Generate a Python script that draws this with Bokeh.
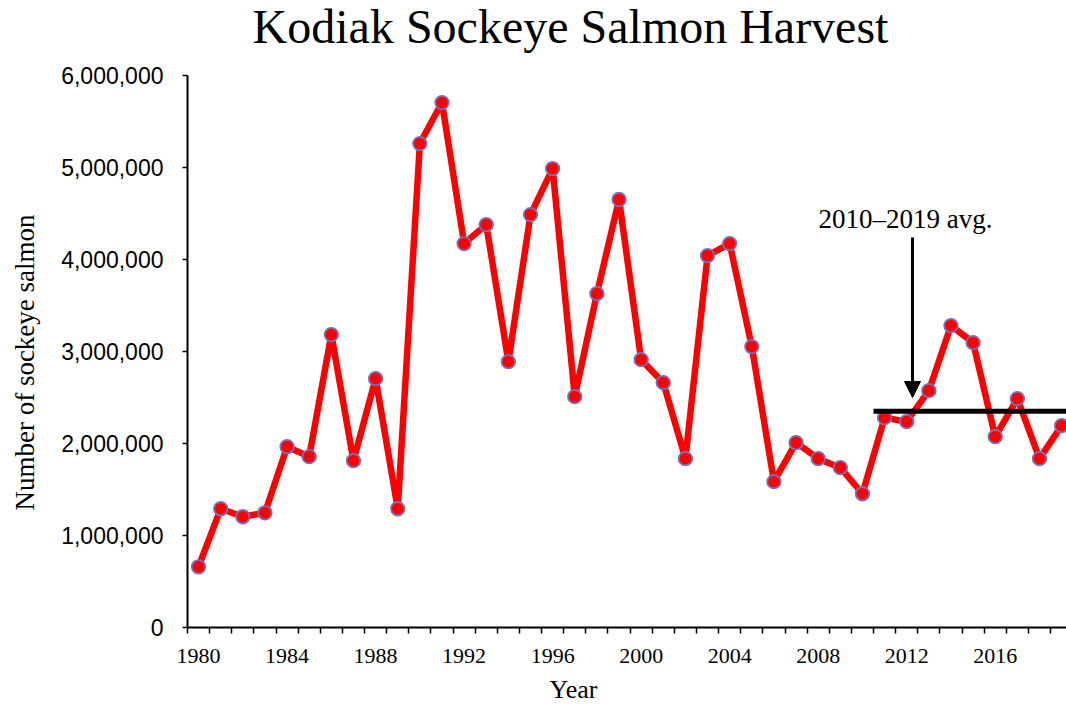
import numpy as np
from bokeh.plotting import figure
from bokeh.models import (Range1d, FixedTicker, NumeralTickFormatter, Label,
                          Arrow, NormalHead, ColumnDataSource)
from bokeh.embed import file_html
from bokeh.resources import INLINE

years = list(range(1980, 2020))
harvest = [660000, 1291000, 1204000, 1247000, 1965000, 1857000, 3184000, 1813000,
           2705000, 1291000, 5260000, 5706000, 4173000, 4379000, 2889000, 4488000,
           4988000, 2509000, 3629000, 4652000, 2911000, 2661000, 1835000, 4042000,
           4173000, 3053000, 1585000, 2009000, 1835000, 1737000, 1454000, 2281000,
           2237000, 2574000, 3281000, 3096000, 2074000, 2487000, 1835000, 2194000]
x_tick_labels = [1980, 1984, 1988, 1992, 1996, 2000, 2004, 2008, 2012, 2016]
y_ticks = [0, 1000000, 2000000, 3000000, 4000000, 5000000, 6000000]
avg_years = [2010, 2019]
avg_value = float(np.mean([v for y, v in zip(years, harvest) if 2010 <= y <= 2019]))

SERIF = "Liberation Serif"
SANS = "Liberation Sans"

# The frame covers the whole canvas; both axes are drawn at fixed locations:
# y axis at the left edge of the first category (x = 187 px), x axis at y = 0 (y = 627 px).
W, H = 1066, 705
Y_MAX = 6000000
Y_PER_PX = Y_MAX / 552.0               # 0 at 627 px, 6,000,000 at 75 px
X_LO, X_HI = 1979.5, 2019.22           # category axis extent (187 px .. 1066 px)
X_PER_PX = (X_HI - X_LO) / 879.0


def x_at(px):
    return X_LO + (px - 187) * X_PER_PX


def y_at(py):
    return (627 - py) * Y_PER_PX


p = figure(width=W, height=H, output_backend="svg", toolbar_location=None,
           title=None,
           x_range=Range1d(x_at(0), x_at(W)), y_range=Range1d(y_at(H), y_at(0)),
           min_border_left=0, min_border_right=0, min_border_top=0,
           min_border_bottom=0)
p.outline_line_color = None
p.grid.visible = False
p.background_fill_color = "white"

src = ColumnDataSource(dict(x=years, y=harvest))
p.line("x", "y", source=src, line_color="#FF0000", line_width=6.5, line_join="round")
p.scatter("x", "y", source=src, size=13.5, fill_color="#FF0000",
          line_color="#7A6FB8", line_width=1.8)

# 2010-2019 average line
p.segment(x0=[avg_years[0] + 0.5], y0=[avg_value], x1=[avg_years[1] + 1], y1=[avg_value],
          line_color="black", line_width=5)

# arrow + annotation text
p.add_layout(Arrow(end=NormalHead(size=16, fill_color="black", line_color="black"),
                   x_start=x_at(912), y_start=y_at(237), x_end=x_at(912), y_end=y_at(397),
                   line_color="black", line_width=3))
p.add_layout(Label(x=x_at(905), y=y_at(218), text="2010\u20132019 avg.", text_font=SERIF,
                   text_font_size="27px", text_align="center", text_baseline="middle",
                   text_color="black"))

# chart title
p.add_layout(Label(x=x_at(570), y=y_at(26), text="Kodiak Sockeye Salmon Harvest",
                   text_font=SERIF, text_font_size="48px", text_align="center",
                   text_baseline="middle", text_color="black"))

# y-axis title
p.add_layout(Label(x=x_at(24), y=y_at(362), text="Number of sockeye salmon",
                   text_font=SERIF, text_font_size="27px", text_align="center",
                   text_baseline="middle", angle=np.pi / 2, text_color="black"))

# x-axis title
p.add_layout(Label(x=x_at(573), y=y_at(689), text="Year",
                   text_font=SERIF, text_font_size="26px", text_align="center",
                   text_baseline="middle", text_color="black"))

# x axis
xa = p.xaxis[0]
xa.fixed_location = 0
xa.bounds = (X_LO, X_HI)
xa.ticker = FixedTicker(ticks=x_tick_labels,
                        minor_ticks=[y - 0.5 for y in years] + [2019.5])
xa.major_tick_out = 0
xa.major_tick_in = 0
xa.minor_tick_out = 6
xa.minor_tick_in = 0
xa.minor_tick_line_color = "black"
xa.minor_tick_line_width = 1.5
xa.axis_line_color = "black"
xa.axis_line_width = 2
xa.major_label_text_font = SERIF
xa.major_label_text_font_size = "22px"
xa.major_label_text_color = "black"
xa.major_label_standoff = 15

# y axis
ya = p.yaxis[0]
ya.fixed_location = X_LO
ya.bounds = (0, Y_MAX)
ya.ticker = FixedTicker(ticks=y_ticks)
ya.formatter = NumeralTickFormatter(format="0,0")
ya.major_tick_out = 5
ya.major_tick_in = 0
ya.minor_tick_out = 0
ya.minor_tick_in = 0
ya.major_tick_line_color = "black"
ya.major_tick_line_width = 1.5
ya.axis_line_color = "black"
ya.axis_line_width = 2
ya.major_label_text_font = SANS
ya.major_label_text_font_size = "23px"
ya.major_label_text_color = "black"
ya.major_label_standoff = 19

open("out.html", "w").write(file_html(p, INLINE))
